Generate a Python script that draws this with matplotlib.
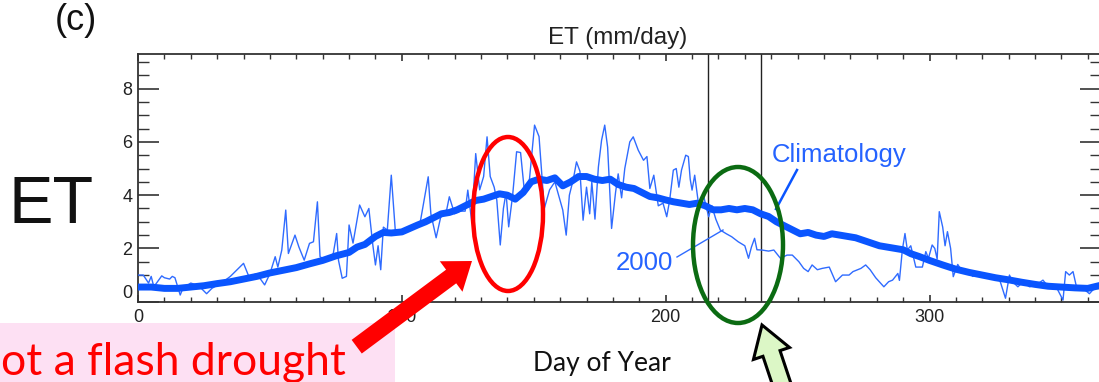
import numpy as np
import matplotlib
matplotlib.use('Agg')
import matplotlib.pyplot as plt
from matplotlib.patches import Ellipse, Rectangle, Polygon
from matplotlib.lines import Line2D
from matplotlib.ticker import MultipleLocator

# ---------------- data ----------------
clim_day = [0, 5, 10, 15, 20, 25, 30, 35, 40, 45, 50, 55, 60, 65, 70, 75, 80, 83, 86, 90,
            93, 96, 100, 103, 106, 109, 112, 115, 118, 121, 125, 128, 131, 134, 137, 140,
            143, 146, 149, 152, 155, 158, 161, 164, 167, 170, 173, 176, 179, 182, 185, 188,
            191, 194, 197, 200, 203, 206, 209, 212, 215, 218, 221, 224, 227, 230, 233, 236,
            239, 242, 245, 248, 251, 254, 257, 260, 263, 266, 269, 272, 275, 278, 281, 284,
            287, 290, 293, 296, 300, 305, 310, 315, 320, 325, 330, 335, 340, 345, 350, 355,
            360, 365]
clim_et = [0.55, 0.55, 0.5, 0.5, 0.55, 0.6, 0.68, 0.75, 0.85, 0.95, 1.08, 1.18, 1.28, 1.42,
           1.55, 1.72, 1.85, 2.05, 2.15, 2.45, 2.6, 2.58, 2.62, 2.75, 2.88, 3.0, 3.15, 3.3,
           3.35, 3.45, 3.65, 3.8, 3.85, 3.95, 4.05, 4.0, 3.85, 4.1, 4.5, 4.6, 4.55, 4.65,
           4.35, 4.5, 4.7, 4.7, 4.6, 4.55, 4.6, 4.4, 4.3, 4.25, 4.1, 3.95, 3.9, 3.82, 3.75,
           3.7, 3.65, 3.7, 3.6, 3.45, 3.45, 3.5, 3.45, 3.5, 3.45, 3.3, 3.2, 3.0, 2.85, 2.7,
           2.55, 2.6, 2.5, 2.45, 2.55, 2.5, 2.45, 2.4, 2.3, 2.2, 2.1, 2.05, 2.0, 1.95, 1.8,
           1.7, 1.55, 1.38, 1.22, 1.1, 1.0, 0.9, 0.82, 0.73, 0.65, 0.58, 0.55, 0.52, 0.5,
           0.62]

y2000_day = [0, 2, 4, 5, 6, 9, 10, 12, 13, 14, 16, 17, 20, 23, 26, 28, 33, 35, 40, 42, 45,
             48, 50, 52, 53, 54.5, 56, 57, 59.5, 61, 63, 65, 66.5, 68, 69, 71, 74, 75.3, 76,
             77.4, 79, 80, 81.5, 84, 86, 87.5, 89, 90, 91, 92, 93, 94.5, 96, 97.5, 99.6,
             103.4, 107, 110, 111, 113, 115, 117, 118, 120, 122, 124, 125, 126.5, 128,
             129.5, 131, 132.3, 133.5, 135, 136, 137.3, 138.5, 139.5, 140.5, 142, 143.5,
             145, 146.5, 148, 150.3, 152, 154, 156, 158, 160, 161, 162.3, 163.5, 165,
             166.2, 167.5, 168.7, 170, 171.2, 172, 173.2, 174.5, 175.7, 176.9, 178, 179.5,
             181, 182, 183.3, 184.5, 186.4, 187.7, 189.6, 191.6, 192.9, 194, 195.5, 197.2,
             199, 200.4, 201.5, 202.9, 204, 205, 206, 207.6, 208.6, 209.3, 210, 211,
             212.5, 214.3, 216.3, 217.5, 219, 220.7, 223, 225, 227.5, 230, 231.4, 232.5,
             233.7, 234.6, 236.5, 239, 241, 243.5, 246, 248, 250.5, 252.3, 254, 255.5,
             257.5, 259.3, 262, 264.4, 267, 269.5, 271, 274, 275.8, 277.5, 279.6, 282.7,
             284.5, 286, 288, 288.6, 289.7, 290.7, 291.6, 292.9, 294.8, 297.3, 298.6,
             299.6, 301, 302, 302.9, 303.7, 305, 305.9, 306.8, 308, 309, 310.7, 312.6,
             314.5, 316.4, 319, 321.5, 324, 326.5, 328.8, 330.3, 331.5, 333.5, 335.5,
             337.9, 340.5, 343, 345.5, 348, 350.6, 351.6, 353, 354.4, 355.7, 358.2, 360.6,
             362, 365]
y2000_et = [1.0, 1.0, 0.7, 0.95, 0.56, 0.97, 0.9, 0.85, 0.95, 0.9, 0.25, 0.5, 0.7, 0.6, 0.3,
            0.5, 0.8, 0.95, 1.44, 0.95, 1.05, 0.63, 1.05, 1.69, 1.3, 1.94, 3.44, 1.81, 2.5,
            2.05, 1.56, 2.19, 2.25, 3.75, 1.69, 1.55, 1.8, 2.56, 1.55, 0.88, 0.95, 2.88,
            2.2, 3.63, 3.19, 3.5, 2.13, 1.38, 2.1, 1.2, 2.8, 2.69, 4.75, 2.7, 2.56, 2.69,
            3.0, 4.69, 3.3, 2.4, 3.3, 3.45, 3.94, 3.3, 3.4, 3.4, 4.19, 3.0, 5.56, 4.2, 4.7,
            6.19, 4.7, 4.3, 3.81, 2.13, 3.5, 4.1, 2.81, 4.0, 5.63, 5.6, 4.1, 4.2, 6.63,
            6.2, 3.5, 4.2, 4.5, 3.8, 3.44, 2.5, 4.0, 4.6, 5.25, 4.9, 3.06, 4.3, 3.3, 4.5,
            3.1, 5.06, 6.06, 6.63, 5.8, 2.75, 4.1, 4.8, 3.9, 5.0, 6.0, 6.19, 5.69, 5.31,
            5.45, 4.25, 4.75, 3.6, 3.7, 3.19, 3.8, 4.94, 5.0, 4.3, 4.94, 5.5, 5.45, 4.6,
            4.19, 4.75, 3.63, 4.0, 3.19, 3.6, 3.1, 2.69, 2.55, 2.44, 2.25, 2.1, 1.63, 2.05,
            2.38, 1.95, 1.94, 1.9, 1.94, 1.63, 1.75, 1.75, 1.5, 1.25, 1.13, 1.38, 1.2,
            1.25, 1.3, 0.75, 1.0, 1.0, 1.13, 1.25, 1.38, 1.2, 0.9, 0.56, 0.75, 0.81, 1.06,
            0.8, 1.94, 2.56, 1.94, 2.1, 1.3, 1.3, 1.88, 1.63, 2.13, 2.0, 1.6, 3.38, 2.8,
            2.1, 2.63, 2.0, 0.94, 1.4, 1.1, 1.15, 0.95, 1.1, 0.9, 0.95, 0.85, 0.13, 1.0,
            0.75, 0.56, 0.75, 0.56, 0.63, 0.81, 0.5, 0.56, 0.06, 1.13, 1.0, 1.13, 0.56,
            0.5, 0.3, 0.45, 0.63]

event_days = [216, 236]
x_ticks = [0, 100, 200, 300]
y_ticks = [0, 2, 4, 6, 8]

# ---------------- figure ----------------
W, H = 1099, 382
fig = plt.figure(figsize=(W / 100, H / 100), dpi=100)
fig.patch.set_facecolor('white')


def fx(x):
    return x / W


def fy(y):
    return 1 - y / H


ax_l, ax_r, ax_t, ax_b = 138, 1101, 54, 301.7
ax = fig.add_axes([fx(ax_l), fy(ax_b), (ax_r - ax_l) / W, (ax_b - ax_t) / H])
ax.set_xlim(0, 365)
ax.set_ylim(0, 9.3)

blue_thick = '#0a55ff'
blue_thin = '#2f6bff'

ax.plot(y2000_day, y2000_et, color=blue_thin, lw=1.0, zorder=3)
ax.plot(clim_day, clim_et, color=blue_thick, lw=5.0, solid_joinstyle='round',
        solid_capstyle='round', zorder=4)
for d in event_days:
    ax.axvline(d, color='#222222', lw=1.0, zorder=2)

spine_c = '#333333'
for s in ax.spines.values():
    s.set_color(spine_c)
    s.set_linewidth(1.3)

ax.set_xticks(x_ticks)
ax.set_yticks(y_ticks)
ax.xaxis.set_minor_locator(MultipleLocator(10))
ax.yaxis.set_minor_locator(MultipleLocator(0.5))
ax.tick_params(axis='x', which='major', direction='in', length=5.0, width=1.2,
               top=True, bottom=True, labelsize=13, pad=5, colors=spine_c)
ax.tick_params(axis='x', which='minor', direction='in', length=3.4, width=1.0,
               top=True, bottom=True, colors=spine_c)
ax.tick_params(axis='y', which='major', direction='in', length=15, width=1.2,
               left=True, right=True, labelsize=13, pad=4, colors=spine_c)
ax.tick_params(axis='y', which='minor', direction='in', length=7.8, width=1.0,
               left=True, right=True, colors=spine_c)
for lab in ax.get_xticklabels() + ax.get_yticklabels():
    lab.set_fontfamily('Liberation Sans')
    lab.set_color('#222222')
ax.yaxis.get_major_ticks()[0].label1.set_va('bottom')

# title
fig.text(fx(618), fy(38), 'ET (mm/day)', ha='center', va='center',
         fontsize=17.5, family='Liberation Sans', color='#222222')

# line labels
txt_blue = '#2563ff'
fig.text(fx(839), fy(155), 'Climatology', ha='center', va='center', fontsize=18.5,
         family='Liberation Sans', color=txt_blue)
fig.add_artist(Line2D([fx(797), fx(776)], [fy(170), fy(209)], transform=fig.transFigure,
                      color=blue_thick, lw=1.8))
fig.text(fx(644), fy(263), '2000', ha='center', va='center', fontsize=18.5,
         family='Liberation Sans', color=txt_blue)
fig.add_artist(Line2D([fx(677), fx(723)], [fy(257), fy(230)], transform=fig.transFigure,
                      color=blue_thin, lw=1.0))

# slide annotations
fig.text(fx(55), fy(21), '(c)', ha='left', va='center', fontsize=26,
         family='Liberation Sans', color='#111111')
fig.text(fx(8), fy(206), 'ET', ha='left', va='center', fontsize=48,
         family='Liberation Sans', color='#111111')
fig.text(fx(602), fy(363), 'Day of Year', ha='center', va='center', fontsize=19,
         family='Lato', color='#111111')

fig.add_artist(Rectangle((0, 0), fx(395), fy(323), transform=fig.transFigure,
                         facecolor='#fde0f3', edgecolor='none', zorder=5))
fig.text(fx(1), fy(375), 'ot a flash drought', ha='left', va='baseline', fontsize=32,
         family='Lato', color='#ff0000', zorder=6)

fig.add_artist(Ellipse((fx(508), fy(214)), 70 / W, 154 / H, transform=fig.transFigure,
                       fill=False, edgecolor='#ff0000', lw=3.2, zorder=7))
fig.add_artist(Ellipse((fx(738), fy(245)), 90 / W, 156 / H, transform=fig.transFigure,
                       fill=False, edgecolor='#0b6b12', lw=3.2, zorder=7))


def arrow_poly(tail, tip, w, hw, hl):
    t = np.array(tail, float)
    p = np.array(tip, float)
    u = (p - t) / np.linalg.norm(p - t)
    n = np.array([-u[1], u[0]])
    neck = p - u * hl
    pts = [t + n * w / 2, neck + n * w / 2, neck + n * hw / 2, p,
           neck - n * hw / 2, neck - n * w / 2, t - n * w / 2]
    return [(fx(q[0]), fy(q[1])) for q in pts]


fig.add_artist(Polygon(arrow_poly((356.7, 346.7), (472, 261), 17, 38, 26), closed=True,
                       transform=fig.transFigure, facecolor='#ff0000', edgecolor='none',
                       zorder=8))
fig.add_artist(Polygon(arrow_poly((792, 415), (762, 325), 18, 38, 30), closed=True,
                       transform=fig.transFigure, facecolor='#dcf7c6', edgecolor='#000000',
                       lw=2.2, zorder=8))

fig.savefig('out.png', dpi=100)
